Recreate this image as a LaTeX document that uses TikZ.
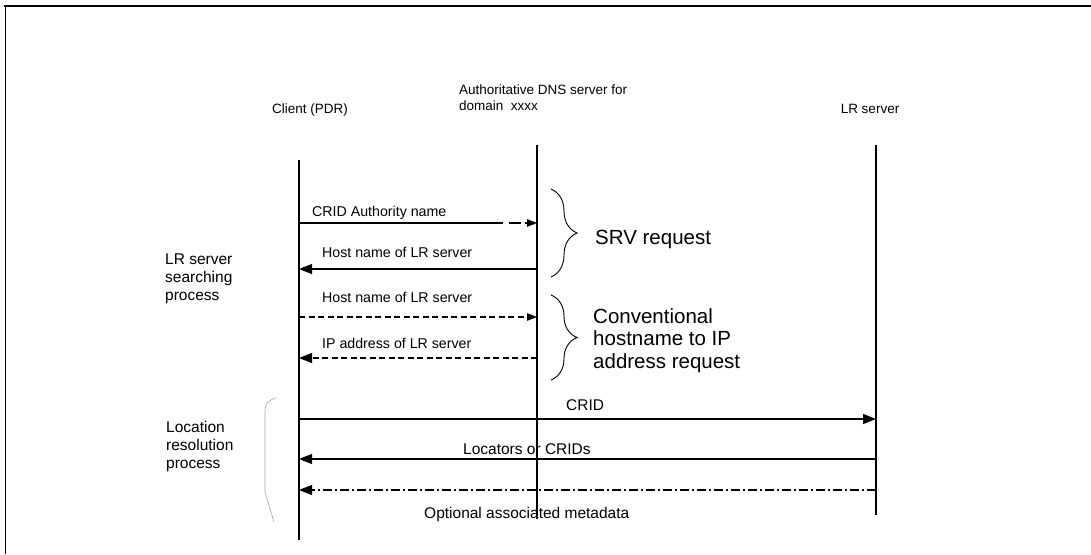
\documentclass[tikz,border=0pt]{standalone}
\usepackage{fontspec}
\setmainfont{Liberation Sans}
\usetikzlibrary{arrows.meta,decorations.pathreplacing}
\begin{document}
\begin{tikzpicture}[x=1pt,y=-1pt,
  lifeline/.style={line width=2.6pt},
  msg/.style={line width=1.1pt},
  bighead/.style={-{Triangle[length=13pt,width=10pt]}},
  smallhead/.style={-{Triangle[length=10pt,width=7.5pt]}},
  dashmsg/.style={msg, dash pattern=on 6pt off 3.5pt},
  dotmsg/.style={msg, dash pattern=on 9pt off 3pt on 2pt off 3pt},
  head/.style={font=\fontsize{13.5}{16}\selectfont, inner sep=0pt},
  lbl/.style={font=\fontsize{14.2}{17}\selectfont, anchor=base west, inner sep=0pt},
  lowlbl/.style={lbl, font=\fontsize{15.5}{18}\selectfont},
  side/.style={font=\fontsize{15.5}{18}\selectfont, anchor=north west, align=left, inner sep=0pt},
  big/.style={font=\fontsize{20.5}{22.5}\selectfont, anchor=north west, align=left, inner sep=0pt},
  curly/.style={line width=0.9pt, decorate, decoration={brace, amplitude=26pt}},
]
\useasboundingbox (0,0) rectangle (1091,554);

% page frame
\draw[line width=1.3pt] (4,6) -- (1091,6);
\draw[line width=1pt] (5,6) -- (5,554);

% column headings
\node[head, anchor=base] (hclient) at (310,113) {Client (PDR)};
\node[head, anchor=north west, align=left] (hdns) at (459,85) {Authoritative DNS server for\\domain\ \ xxxx};
\node[head, anchor=base] (hlr) at (870,113) {LR server};

% lifelines
\coordinate (ctop) at (299,160);  \coordinate (cbot) at (299,540);
\coordinate (dtop) at (537,145);  \coordinate (dbot) at (537,519);
\coordinate (ltop) at (876,145);  \coordinate (lbot) at (876,515);
\draw[lifeline] (ctop) -- (cbot);
\draw[line width=2pt] (dtop) -- (dbot);
\draw[lifeline] (ltop) -- (lbot);

% SRV request messages
\coordinate (m1a) at (299,223); \coordinate (m1b) at (503,223);
\coordinate (m1c) at (509,223); \coordinate (m1d) at (537,223);
\draw[msg] (m1a) -- (m1b);
\draw[msg, smallhead, dash pattern=on 12pt off 4pt] (m1c) -- (m1d);
\node[lbl] (t1) at (312,216) {CRID Authority name};

\coordinate (m2a) at (537,269); \coordinate (m2b) at (299,269);
\draw[msg, bighead] (m2a) -- (m2b);
\node[lbl] (t2) at (322,257) {Host name of LR server};

% conventional hostname lookup
\coordinate (m3a) at (299,317); \coordinate (m3b) at (537,317);
\draw[dashmsg, smallhead] (m3a) -- (m3b);
\node[lbl] (t3) at (322,302) {Host name of LR server};

\coordinate (m4a) at (537,358); \coordinate (m4b) at (299,358);
\draw[dashmsg, bighead] (m4a) -- (m4b);
\node[lbl] (t4) at (322,348) {IP address of LR server};

% braces and their captions
\coordinate (b1t) at (551,189); \coordinate (b1b) at (551,277);
\draw[curly] (b1t) -- (b1b);
\node[big, anchor=west] (srv) at (595,239) {SRV request};

\coordinate (b2t) at (551,295); \coordinate (b2b) at (551,380);
\draw[curly] (b2t) -- (b2b);
\node[big] (conv) at (593,308) {Conventional\\hostname to IP\\address request};

% location resolution messages
\coordinate (m5a) at (299,419); \coordinate (m5b) at (876,419);
\draw[msg, bighead] (m5a) -- (m5b);
\node[lowlbl] (t5) at (566,410) {CRID};

\coordinate (m6a) at (876,459); \coordinate (m6b) at (299,459);
\draw[msg, bighead] (m6a) -- (m6b);
\node[lowlbl] (t6) at (463,454) {Locators or CRIDs};

\coordinate (m7a) at (876,490); \coordinate (m7b) at (299,490);
\draw[dotmsg, bighead] (m7a) -- (m7b);
\node[lowlbl] (t7) at (424,518) {Optional associated metadata};

% process captions on the left
\node[side] (searching) at (165,254) {LR server\\searching\\process};
\node[side] (location) at (166,421) {Location\\resolution\\process};
\draw[gray!70, line width=0.6pt] (276,398) .. controls (268,400) and (265,404) .. (265,412) -- (265,492) -- (274,522);
\end{tikzpicture}
\end{document}
